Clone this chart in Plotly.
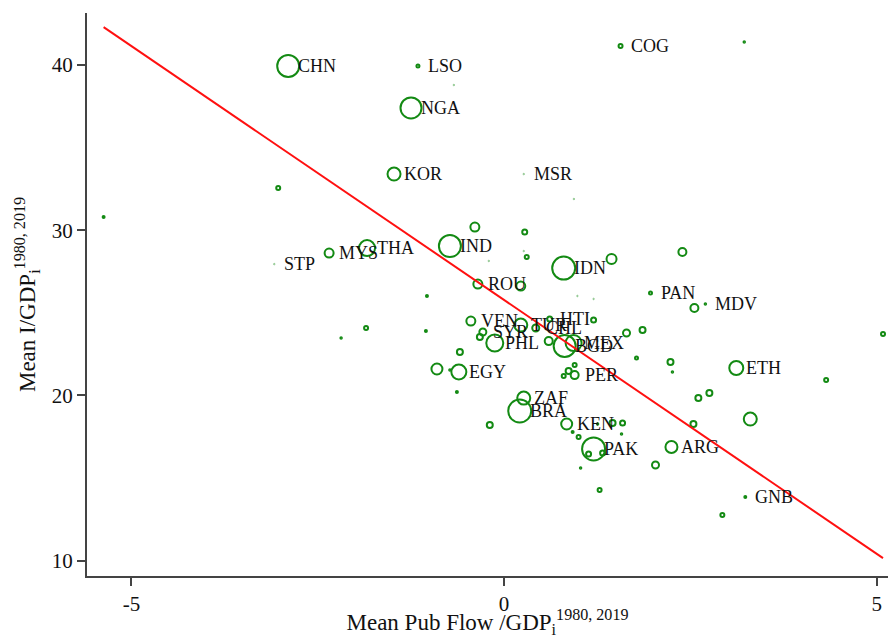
import plotly.graph_objects as go

# ---------------- data ----------------
countries = [
    "CHN", "LSO", "NGA", "KOR", "MSR", "COG", "STP", "MYS", "THA", "IND",
    "ROU", "IDN", "PAN", "MDV", "VEN", "SYR", "PHL", "TUR", "CHL", "HTI",
    "BGD", "MEX", "PER", "EGY", "ZAF", "BRA", "KEN", "PAK", "ARG", "ETH",
    "GNB",
    "", "", "", "", "", "", "", "", "", "",
    "", "", "", "", "", "", "", "", "", "",
    "", "", "", "", "", "", "", "", "", "",
    "", "", "", "", "", "", "", "", "", "",
    "", "", "", "", "", "", "", "", "", "",
    "", "", "", "",
]
pub_flow = [
    -2.897, -1.156, -1.249, -1.477, 0.264, 1.563, -3.084, -2.348, -1.839, -0.727,
    -0.352, 0.800, 1.965, 2.701, -0.446, -0.285, -0.125, 0.224, 0.425, 0.612,
    0.813, 0.933, 0.947, -0.607, 0.264, 0.210, 0.840, 1.201, 2.246, 3.116,
    3.237,
    3.223, -5.374, -3.031, 5.085, 1.442, 2.393, 2.554, 1.643, 1.858, 1.777,
    2.233, 2.259, 2.607, 2.755, 2.541, 3.304, 4.322, 2.032, 2.929, 1.282,
    1.456, 1.590, 1.576, 1.255, 0.920, 1.000, 1.134, 1.322, 1.027, -2.187,
    -1.852, -0.392, 0.277, 0.304, 0.224, -1.035, -1.049, -0.593, -0.901, -0.727,
    -0.633, -0.192, -0.325, 0.599, 1.201, 0.947, 0.866, 0.800, 0.937, -0.674,
    -0.205, 0.264, 0.984, 1.201,
]
inv_gdp = [
    39.94, 39.94, 37.40, 33.40, 33.40, 41.15, 27.95, 28.62, 28.92, 29.04,
    26.74, 27.71, 26.20, 25.53, 24.50, 23.84, 23.17, 24.26, 24.08, 24.62,
    22.99, 23.17, 21.23, 21.42, 19.84, 19.06, 18.27, 16.76, 16.88, 21.66,
    13.85,
    41.39, 30.80, 32.55, 23.72, 28.26, 28.68, 25.29, 23.78, 23.96, 22.26,
    22.02, 21.42, 19.84, 20.15, 18.27, 18.57, 20.93, 15.79, 12.76, 14.27,
    18.33, 18.33, 17.66, 18.27, 17.78, 17.48, 16.45, 16.51, 15.61, 23.47,
    24.08, 30.19, 29.89, 28.38, 26.62, 26.02, 23.90, 22.63, 21.60, 21.54,
    20.21, 18.21, 23.54, 23.29, 24.56, 21.84, 21.48, 21.17, 31.89, 38.79,
    28.14, 28.74, 26.02, 25.84,
]
weight = [
    24, 5, 23, 15, 1.5, 6, 1.5, 11, 18, 24,
    11, 25, 5, 3, 11, 9, 19, 15, 9, 7,
    24, 18, 10, 17, 15, 25, 13, 25, 14, 16,
    4,
    3, 4, 6, 6, 12, 10, 10, 9, 8, 5,
    8, 3, 8, 8, 8, 15, 6, 9, 6, 6,
    8, 7, 3, 3, 4, 6, 7, 7, 3, 3,
    6, 11, 7, 6, 11, 4, 4, 8, 13, 3,
    4, 8, 8, 10, 7, 6, 8, 6, 1.5, 1.5,
    1.5, 1.5, 1.5, 1.5,
]
fit_intercept = 25.78
fit_slope = -3.073
x_ticks = [-5, 0, 5]
y_ticks = [10, 20, 30, 40]

# ---------------- figure ----------------
FONT = "Liberation Serif, Times New Roman, serif"
GREEN = "#138a13"

msize = [max(w - 2, 1.5) for w in weight]
lwidth = [2 if w >= 3 else 1 for w in weight]
mopac = [1 if w >= 3 else 0.45 for w in weight]

fig = go.Figure()
fig.add_trace(go.Scatter(
    x=pub_flow, y=inv_gdp, mode="markers",
    marker=dict(symbol="circle-open", size=msize, color=GREEN,
                opacity=mopac, line=dict(color=GREEN, width=lwidth)),
    hoverinfo="skip", showlegend=False,
))

fx = [min(pub_flow), max(pub_flow)]
fy = [fit_intercept + fit_slope * v for v in fx]
fig.add_trace(go.Scatter(
    x=fx, y=fy, mode="lines", line=dict(color="#ff1010", width=2),
    hoverinfo="skip", showlegend=False,
))

for name, xv, yv in zip(countries, pub_flow, inv_gdp):
    if name:
        fig.add_annotation(
            x=xv, y=yv, text=name, showarrow=False,
            xanchor="left", yanchor="middle", xshift=8,
            font=dict(family=FONT, size=18, color="#111111"),
        )

axis_common = dict(
    showgrid=False, zeroline=False, showline=True, linecolor="#444444",
    linewidth=2, ticks="outside", ticklen=8, tickwidth=1.5,
    tickcolor="#444444",
    tickfont=dict(family=FONT, size=21, color="#111111"),
)

fig.update_layout(
    width=888, height=638,
    margin=dict(l=87, r=0, t=13, b=62),
    paper_bgcolor="white", plot_bgcolor="white",
    xaxis=dict(
        range=[-5.597, 5.152], tickvals=x_ticks,
        ticktext=[str(v) for v in x_ticks],
        title=dict(text="Mean Pub Flow /GDP<sub>i</sub><sup>1980, 2019</sup>",
                   font=dict(family=FONT, size=23, color="#111111"),
                   standoff=5),
        **axis_common,
    ),
    yaxis=dict(
        range=[9.07, 43.15], tickvals=y_ticks,
        ticktext=[str(v) for v in y_ticks],
        title=dict(text="Mean I/GDP<sub>i</sub><sup>1980, 2019</sup>",
                   font=dict(family=FONT, size=23, color="#111111"),
                   standoff=10),
        **axis_common,
    ),
)

fig.write_html("out.html")
